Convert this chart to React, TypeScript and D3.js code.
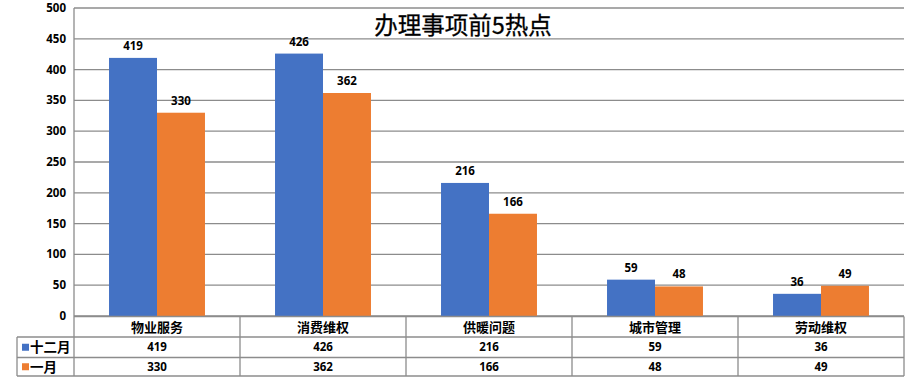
import React from "react";
import * as d3 from "d3";

const categories = ["物业服务", "消费维权", "供暖问题", "城市管理", "劳动维权"];
const seriesNames = ["十二月", "一月"];
const decValues = [419, 426, 216, 59, 36];
const janValues = [330, 362, 166, 48, 49];
const yTicks = [0, 50, 100, 150, 200, 250, 300, 350, 400, 450, 500];
const colors = ["#4472C4", "#ED7D31"];

const W = 907;
const H = 391;
const left = 74;
const right = 904;
const top = 8;
const bottom = 316;
const rowY = [316.5, 337, 357.5, 376];
const legendLeft = 17;
const grid = "#8c8c8c";
const numFont = "'Noto Sans', 'DejaVu Sans', sans-serif";
const cjkFont = "'Noto Sans CJK SC', sans-serif";

export default function App() {
  const x = d3.scaleBand<string>().domain(categories).range([left, right]).padding(0);
  const inner = d3
    .scaleBand<string>()
    .domain(seriesNames)
    .range([0, x.bandwidth()])
    .paddingInner(0)
    .paddingOuter(0.73);
  const y = d3.scaleLinear().domain([0, 500]).range([bottom, top]);
  const series = [decValues, janValues];

  return (
    <svg width={W} height={H} style={{ position: "absolute", left: 0, top: 0, background: "#fff" }}>
      {yTicks.map((t) => (
        <line key={t} x1={left} x2={right} y1={y(t)} y2={y(t)} stroke={grid} strokeWidth={1.3} />
      ))}
      {yTicks.map((t) => (
        <text
          key={"l" + t}
          x={66}
          y={y(t) + 4}
          textAnchor="end"
          fontFamily={numFont}
          fontWeight={700}
          fontSize={11.5}
          fill="#000"
        >
          {t}
        </text>
      ))}
      {categories.map((c, i) => (
        <g key={c} transform={`translate(${x(c)},0)`}>
          {seriesNames.map((s, j) => {
            const v = series[j][i];
            const bx = inner(s)!;
            return (
              <g key={s}>
                <rect x={bx} y={y(v)} width={inner.bandwidth()} height={bottom - y(v)} fill={colors[j]} />
                <text
                  x={bx + inner.bandwidth() / 2}
                  y={y(v) - 8}
                  textAnchor="middle"
                  fontFamily={numFont}
                  fontWeight={700}
                  fontSize={11.5}
                  fill="#000"
                >
                  {v}
                </text>
              </g>
            );
          })}
        </g>
      ))}
      <text
        x={463}
        y={33.5}
        textAnchor="middle"
        fontFamily={cjkFont}
        fontSize={23.5}
        fill="#000"
        stroke="#000"
        strokeWidth={0.3}
      >
        办理事项前5热点
      </text>
      <line x1={left} x2={left} y1={top} y2={rowY[3]} stroke={grid} strokeWidth={1.3} />
      {rowY.map((ry, k) => (
        <line
          key={"r" + k}
          x1={k === 0 ? left : legendLeft}
          x2={right}
          y1={ry}
          y2={ry}
          stroke={grid}
          strokeWidth={1.3}
        />
      ))}
      <line x1={legendLeft} x2={legendLeft} y1={rowY[1]} y2={rowY[3]} stroke={grid} strokeWidth={1.3} />
      {categories.map((c) => (
        <line
          key={"v" + c}
          x1={x(c)! + x.bandwidth()}
          x2={x(c)! + x.bandwidth()}
          y1={rowY[0]}
          y2={rowY[3]}
          stroke={grid}
          strokeWidth={1.3}
        />
      ))}
      {categories.map((c) => (
        <text
          key={"c" + c}
          x={x(c)! + x.bandwidth() / 2}
          y={332}
          textAnchor="middle"
          fontFamily={cjkFont}
          fontWeight={700}
          fontSize={13}
          fill="#000"
        >
          {c}
        </text>
      ))}
      {seriesNames.map((s, j) => (
        <g key={"leg" + s}>
          <rect x={22} y={(rowY[j + 1] + rowY[j + 2]) / 2 - 3.5} width={7} height={7} fill={colors[j]} />
          <text
            x={30}
            y={(rowY[j + 1] + rowY[j + 2]) / 2 + 5}
            fontFamily={cjkFont}
            fontWeight={700}
            fontSize={13.5}
            fill="#000"
          >
            {s}
          </text>
          {categories.map((c, i) => (
            <text
              key={c}
              x={x(c)! + x.bandwidth() / 2}
              y={(rowY[j + 1] + rowY[j + 2]) / 2 + 4}
              textAnchor="middle"
              fontFamily={numFont}
              fontWeight={700}
              fontSize={11.5}
              fill="#000"
            >
              {series[j][i]}
            </text>
          ))}
        </g>
      ))}
    </svg>
  );
}
